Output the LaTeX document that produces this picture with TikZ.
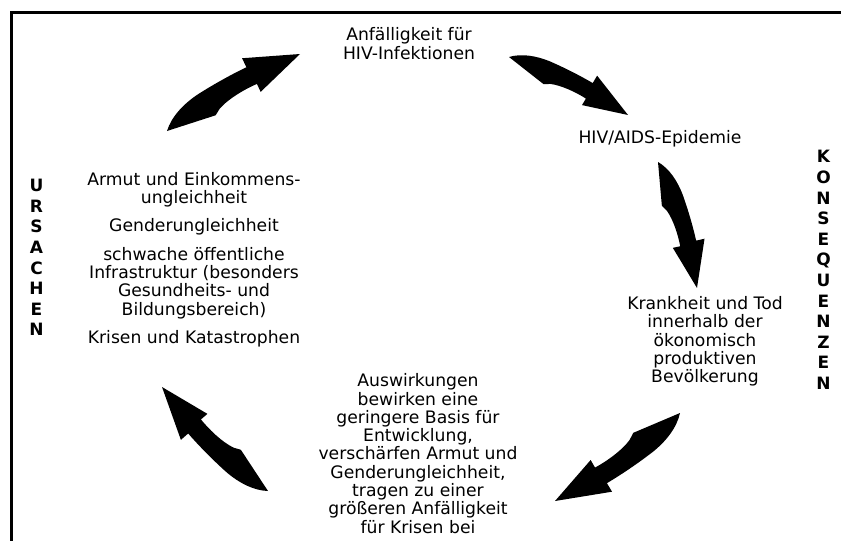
\documentclass[tikz,border=0pt]{standalone}
\usepackage{fontspec}
\setmainfont{DejaVu Sans}
\usetikzlibrary{calc}

\tikzset{
	txt/.style={align=center, inner sep=0pt, font=\fontsize{17.2}{18.3}\selectfont},
	sidelbl/.style={align=center, inner sep=0pt, font=\bfseries\fontsize{17}{20.6}\selectfont},
	frame/.style={line width=3pt},
}

\newcommand\swooparrow[2]{%
	\path let \p1=($(#2)-(#1)$) in \pgfextra{%
		\pgfmathsetmacro\swl{veclen(\x1,\y1)}\xdef\swlen{\swl}%
		\pgfmathsetmacro\swa{atan2(\y1,\x1)}\xdef\swang{\swa}};
	\fill[shift={(#1)}, rotate=\swang, x=\swlen pt, y=\swlen pt]
		(0,0) .. controls (0.07,0.065) and (0.18,0.1) .. (0.3,0.106)
		.. controls (0.45,0.112) and (0.58,0.106) .. (0.655,0.1)
		-- (0.66,0.165) -- (1,0) -- (0.655,-0.085) -- (0.66,-0.028)
		.. controls (0.58,-0.018) and (0.45,-0.018) .. (0.37,-0.046)
		-- (0.325,-0.07) -- cycle;
}

\begin{document}
\begin{tikzpicture}[x=1pt, y=1pt]
		\useasboundingbox (0,0) rectangle (841,-541);
		\draw[frame] (11,-548) -- (11,-12) -- (848,-12);

		\node[txt] (anfall) at (409,-43.5) {Anfälligkeit für\\HIV-Infektionen};
		\node[txt] (epidemie) at (660,-139) {HIV/AIDS-Epidemie};
		\node[txt] (krankheit) at (705,-341.5) {Krankheit und Tod\\innerhalb der\\ökonomisch\\produktiven\\Bevölkerung};
		\node[txt] (auswirkung) at (418,-453.5) {Auswirkungen\\bewirken eine\\geringere Basis für\\Entwicklung,\\verschärfen Armut und\\Genderungleichheit,\\tragen zu einer\\größeren Anfälligkeit\\für Krisen bei};
		\node[txt] (ursachen) at (194,-259.5) {Armut und Einkommens-\\ungleichheit\\[10pt]Genderungleichheit\\[10pt]schwache öffentliche\\Infrastruktur (besonders\\Gesundheits- und\\Bildungsbereich)\\[10pt]Krisen und Katastrophen};

		\node[sidelbl] (lblurs) at (36.5,-257.5) {U\\R\\S\\A\\C\\H\\E\\N};
		\node[sidelbl] (lblkons) at (823.5,-270) {K\\O\\N\\S\\E\\Q\\U\\E\\N\\Z\\E\\N};

		\coordinate (a1s) at (167,-131); \coordinate (a1e) at (300,-54);
		\coordinate (a2s) at (509,-57); \coordinate (a2e) at (628,-115);
		\coordinate (a3s) at (658,-162); \coordinate (a3e) at (697,-288);
		\coordinate (a4s) at (680,-413); \coordinate (a4e) at (555,-501);
		\coordinate (a5s) at (268,-491); \coordinate (a5e) at (162,-387);
		\swooparrow{a1s}{a1e}
		\swooparrow{a2s}{a2e}
		\swooparrow{a3s}{a3e}
		\swooparrow{a4s}{a4e}
		\swooparrow{a5s}{a5e}
\end{tikzpicture}
\end{document}
